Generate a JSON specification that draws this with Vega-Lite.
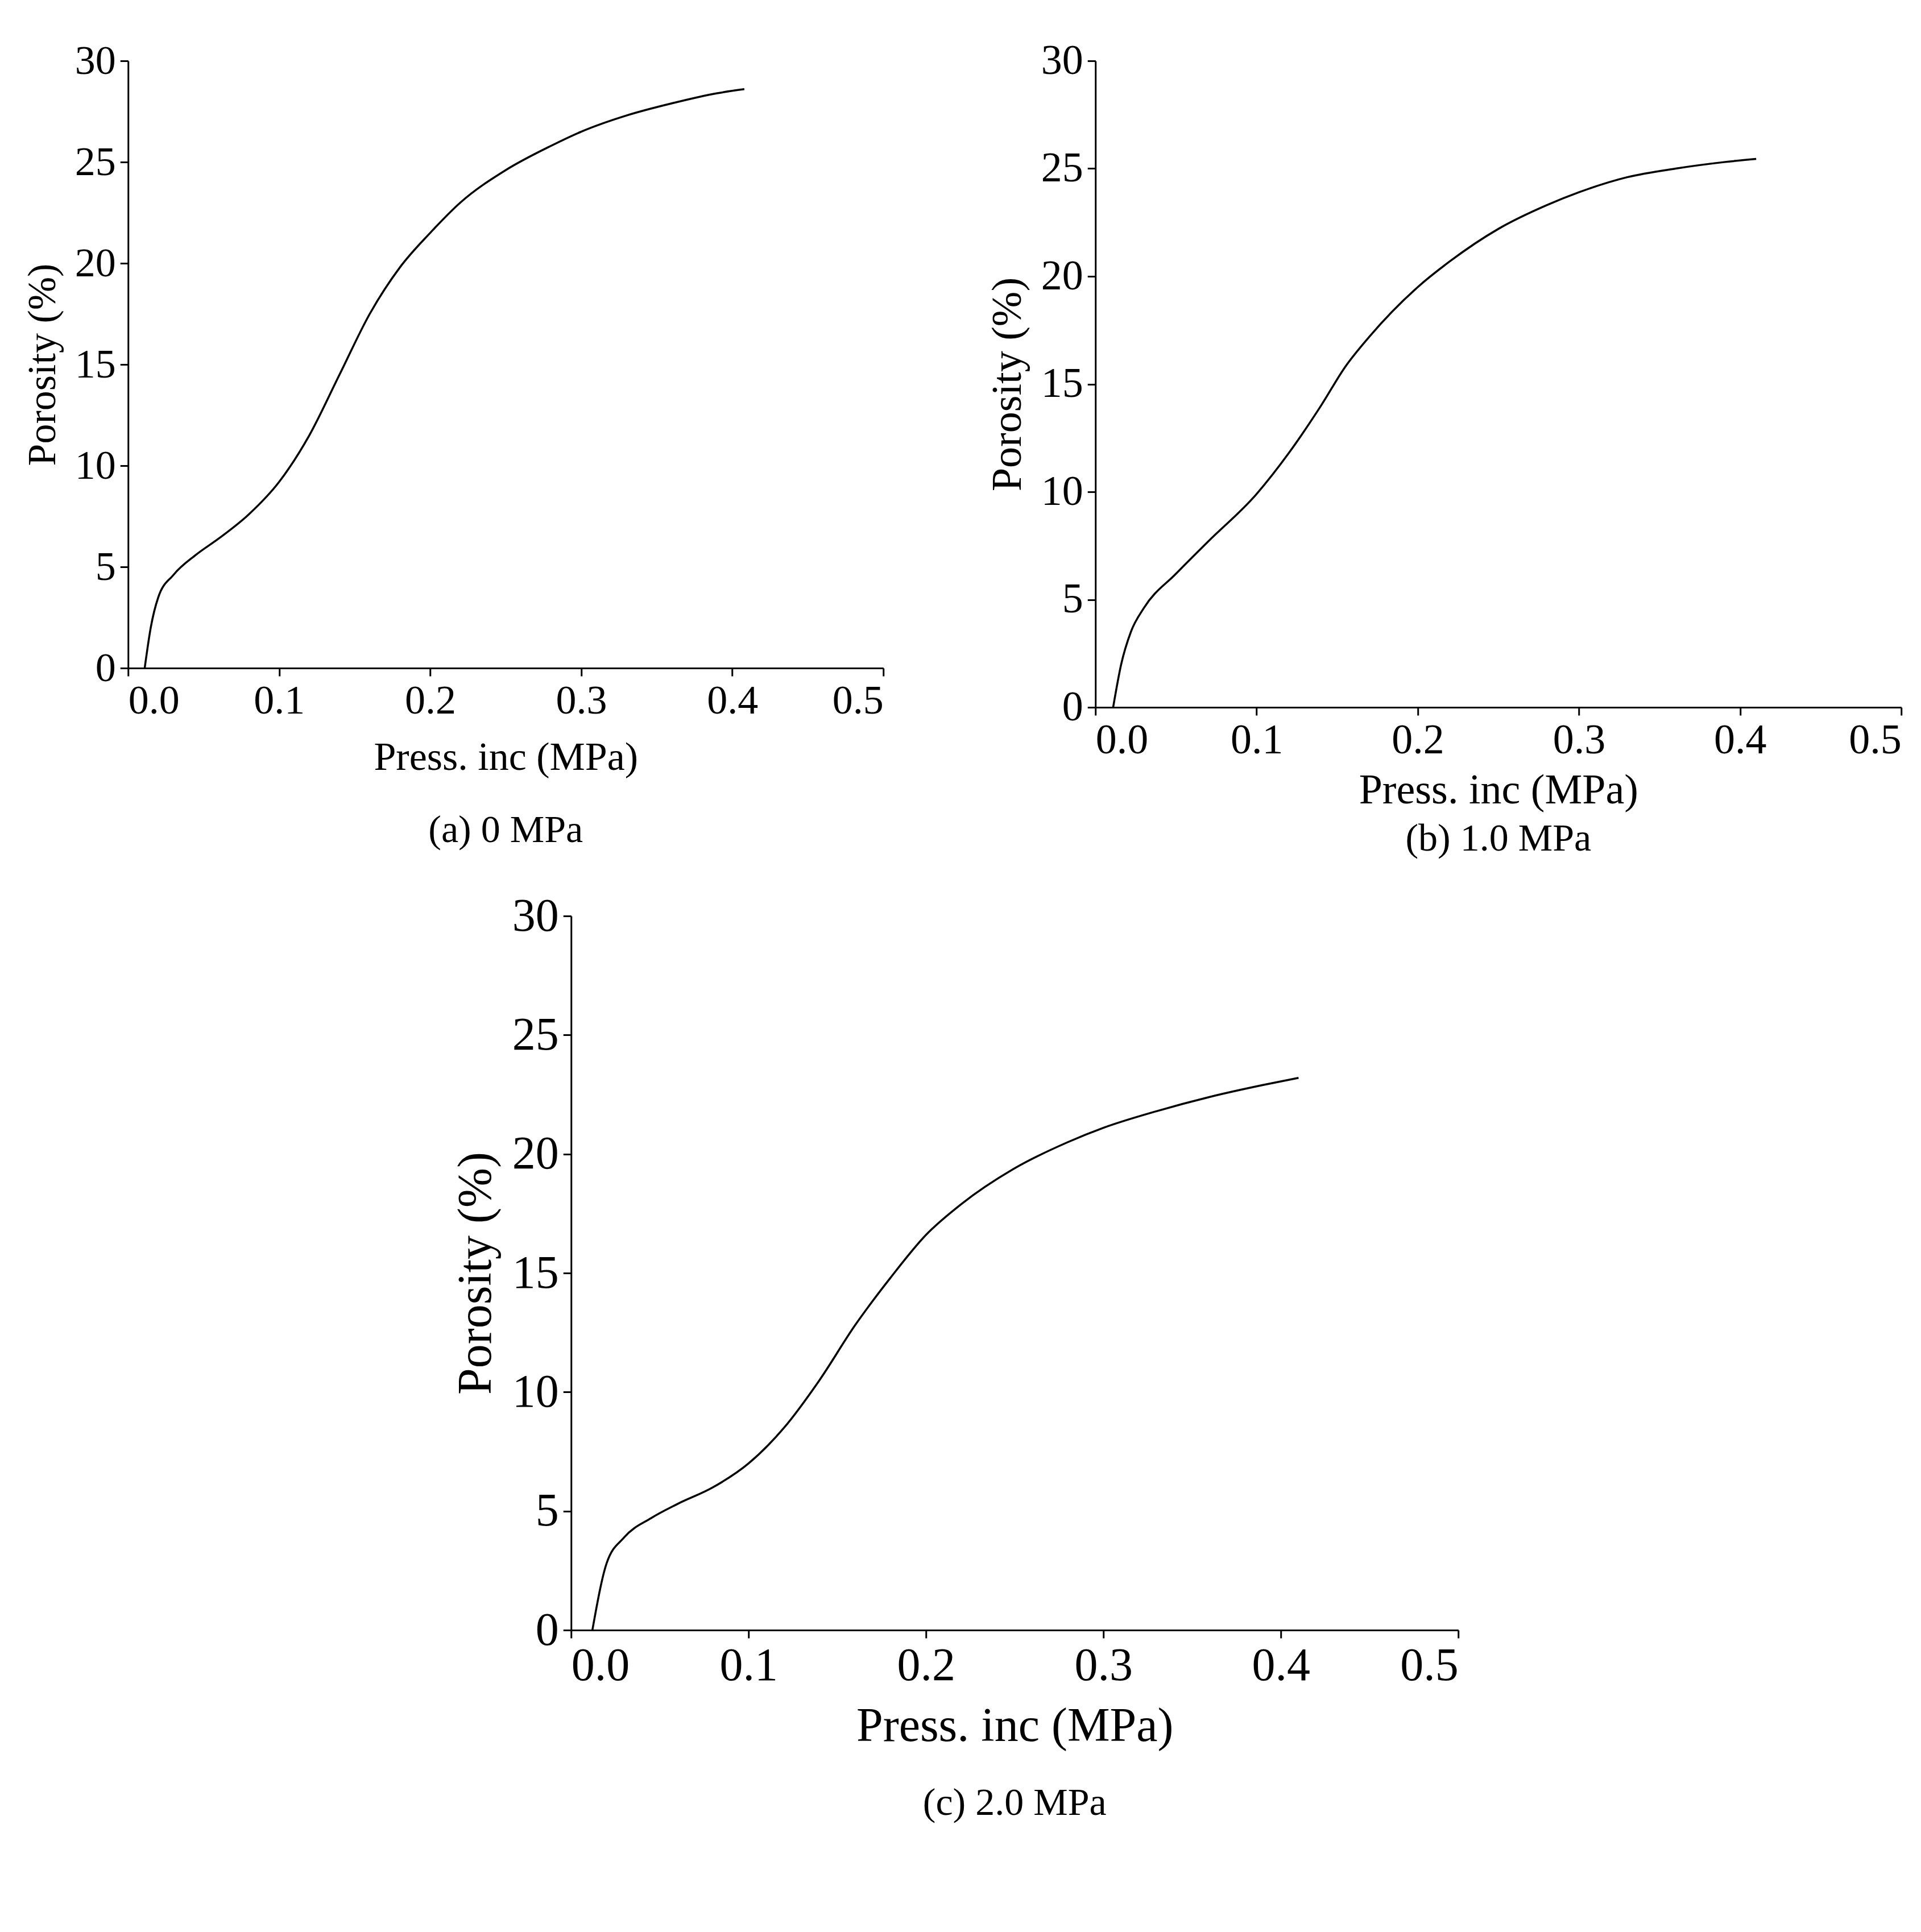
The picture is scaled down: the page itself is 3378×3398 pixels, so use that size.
{
  "$schema": "https://vega.github.io/schema/vega-lite/v6.json",
  "background": "white",
  "padding": {"left": 40, "top": 70, "right": 40, "bottom": 20},
  "config": {
    "view": {"stroke": null},
    "font": "Liberation Serif",
    "axis": {"grid": false, "domainColor": "black", "tickColor": "black", "labelColor": "black", "titleColor": "black", "labelFont": "Liberation Serif", "titleFont": "Liberation Serif", "titleFontWeight": "normal", "domainWidth": 3, "tickWidth": 3, "tickSize": 14, "labelPadding": 8},
    "title": {"font": "Liberation Serif", "fontWeight": "normal", "color": "black", "orient": "bottom"}
  },
  "datasets": {
    "curves": [
      {"p": "a", "x": 0.011, "y": 0}, {"p": "a", "x": 0.015, "y": 2}, {"p": "a", "x": 0.02, "y": 3.5}, {"p": "a", "x": 0.03, "y": 4.6}, {"p": "a", "x": 0.045, "y": 5.6}, {"p": "a", "x": 0.06, "y": 6.4}, {"p": "a", "x": 0.08, "y": 7.6}, {"p": "a", "x": 0.1, "y": 9.2}, {"p": "a", "x": 0.12, "y": 11.5}, {"p": "a", "x": 0.14, "y": 14.5}, {"p": "a", "x": 0.16, "y": 17.5}, {"p": "a", "x": 0.18, "y": 19.8}, {"p": "a", "x": 0.2, "y": 21.5}, {"p": "a", "x": 0.22, "y": 23}, {"p": "a", "x": 0.25, "y": 24.6}, {"p": "a", "x": 0.28, "y": 25.8}, {"p": "a", "x": 0.3, "y": 26.5}, {"p": "a", "x": 0.33, "y": 27.3}, {"p": "a", "x": 0.36, "y": 27.9}, {"p": "a", "x": 0.39, "y": 28.4}, {"p": "a", "x": 0.408, "y": 28.6},
      {"p": "b", "x": 0.011, "y": 0}, {"p": "b", "x": 0.016, "y": 2}, {"p": "b", "x": 0.022, "y": 3.5}, {"p": "b", "x": 0.03, "y": 4.6}, {"p": "b", "x": 0.05, "y": 6.2}, {"p": "b", "x": 0.07, "y": 7.7}, {"p": "b", "x": 0.1, "y": 9.9}, {"p": "b", "x": 0.12, "y": 11.8}, {"p": "b", "x": 0.14, "y": 14}, {"p": "b", "x": 0.155, "y": 15.8}, {"p": "b", "x": 0.17, "y": 17.2}, {"p": "b", "x": 0.2, "y": 19.5}, {"p": "b", "x": 0.22, "y": 20.7}, {"p": "b", "x": 0.25, "y": 22.2}, {"p": "b", "x": 0.28, "y": 23.3}, {"p": "b", "x": 0.3, "y": 23.9}, {"p": "b", "x": 0.33, "y": 24.6}, {"p": "b", "x": 0.36, "y": 25}, {"p": "b", "x": 0.39, "y": 25.3}, {"p": "b", "x": 0.41, "y": 25.45},
      {"p": "c", "x": 0.012, "y": 0}, {"p": "c", "x": 0.02, "y": 2.8}, {"p": "c", "x": 0.03, "y": 3.9}, {"p": "c", "x": 0.045, "y": 4.7}, {"p": "c", "x": 0.06, "y": 5.3}, {"p": "c", "x": 0.08, "y": 6.0}, {"p": "c", "x": 0.1, "y": 7.0}, {"p": "c", "x": 0.12, "y": 8.5}, {"p": "c", "x": 0.14, "y": 10.5}, {"p": "c", "x": 0.16, "y": 12.8}, {"p": "c", "x": 0.18, "y": 14.8}, {"p": "c", "x": 0.2, "y": 16.6}, {"p": "c", "x": 0.22, "y": 17.9}, {"p": "c", "x": 0.25, "y": 19.4}, {"p": "c", "x": 0.28, "y": 20.5}, {"p": "c", "x": 0.3, "y": 21.1}, {"p": "c", "x": 0.33, "y": 21.8}, {"p": "c", "x": 0.36, "y": 22.4}, {"p": "c", "x": 0.39, "y": 22.9}, {"p": "c", "x": 0.41, "y": 23.2}
    ]
  },
  "data": {"name": "curves"},
  "vconcat": [
    {
      "hconcat": [
        {
          "width": 1328, "height": 1068,
          "title": {"text": "(a) 0 MPa", "fontSize": 68, "offset": 60},
          "transform": [{"filter": "datum.p === 'a'"}],
          "mark": {"type": "line", "color": "black", "strokeWidth": 3.5, "interpolate": "monotone"},
          "encoding": {
            "x": {"field": "x", "type": "quantitative", "scale": {"domain": [0, 0.5]}, "axis": {"title": "Press. inc (MPa)", "values": [0, 0.1, 0.2, 0.3, 0.4, 0.5], "format": ".1f", "labelFontSize": 72, "titleFontSize": 70, "titlePadding": 30}},
            "y": {"field": "y", "type": "quantitative", "scale": {"domain": [0, 30]}, "axis": {"title": "Porosity (%)", "values": [0, 5, 10, 15, 20, 25, 30], "labelFontSize": 72, "titleFontSize": 70, "titlePadding": 20}}
          }
        },
        {
          "width": 1417, "height": 1137,
          "title": {"text": "(b) 1.0 MPa", "fontSize": 68, "offset": 15},
          "transform": [{"filter": "datum.p === 'b'"}],
          "mark": {"type": "line", "color": "black", "strokeWidth": 3.5, "interpolate": "monotone"},
          "encoding": {
            "x": {"field": "x", "type": "quantitative", "scale": {"domain": [0, 0.5]}, "axis": {"title": "Press. inc (MPa)", "values": [0, 0.1, 0.2, 0.3, 0.4, 0.5], "format": ".1f", "labelFontSize": 74, "titleFontSize": 74, "titlePadding": 15}},
            "y": {"field": "y", "type": "quantitative", "scale": {"domain": [0, 30]}, "axis": {"title": "Porosity (%)", "values": [0, 5, 10, 15, 20, 25, 30], "labelFontSize": 74, "titleFontSize": 74, "titlePadding": 20}}
          }
        }
      ],
      "spacing": 180
    },
    {
      "width": 1560, "height": 1256,
      "title": {"text": "(c) 2.0 MPa", "fontSize": 68, "offset": 60},
      "transform": [{"filter": "datum.p === 'c'"}],
      "mark": {"type": "line", "color": "black", "strokeWidth": 3.5, "interpolate": "monotone"},
      "encoding": {
        "x": {"field": "x", "type": "quantitative", "scale": {"domain": [0, 0.5]}, "axis": {"title": "Press. inc (MPa)", "values": [0, 0.1, 0.2, 0.3, 0.4, 0.5], "format": ".1f", "labelFontSize": 82, "titleFontSize": 84, "titlePadding": 25}},
        "y": {"field": "y", "type": "quantitative", "scale": {"domain": [0, 30]}, "axis": {"title": "Porosity (%)", "values": [0, 5, 10, 15, 20, 25, 30], "labelFontSize": 82, "titleFontSize": 84, "titlePadding": 20}}
      }
    }
  ],
  "center": true,
  "spacing": 60
}
